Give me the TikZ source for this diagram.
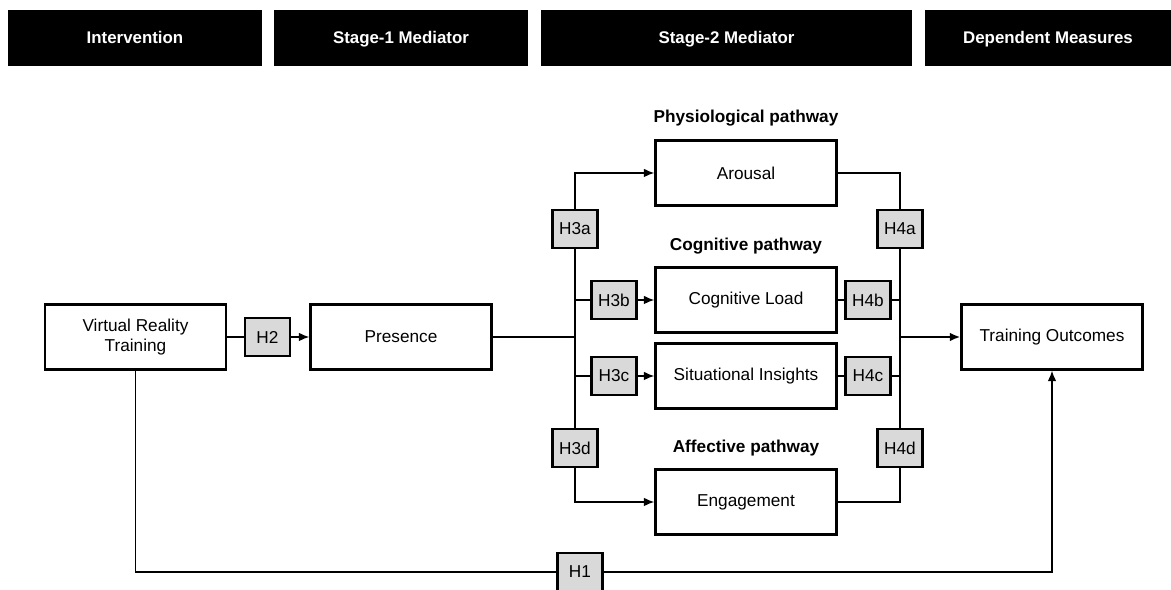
\documentclass[tikz,border=0pt]{standalone}
\usepackage{fontspec}
\setmainfont{Liberation Sans}
\usepackage{tikz}
\usetikzlibrary{arrows.meta}

\definecolor{hypgray}{HTML}{D9D9D9}

\begin{document}
\begin{tikzpicture}[x = 0.02cm, y = -0.02cm,
  font = \fontsize{9.8}{11.5}\selectfont,
  header/.style = {fill = black, text = white, font = \fontsize{9.6}{11}\selectfont\bfseries,
    minimum height = 1.12cm, inner sep = 0pt, text height = 1.6ex, text depth = 0.4ex},
  varbox/.style = {draw, line width = 1.3pt, minimum width = 3.62cm, minimum height = 1.3cm,
    align = center, inner sep = 2pt},
  hyp/.style = {draw, line width = 1.3pt, fill = hypgray, minimum width = 0.9cm,
    minimum height = 0.76cm, inner sep = 1pt},
  pathlabel/.style = {font = \fontsize{9.8}{11.5}\selectfont\bfseries},
  link/.style = {line width = 1pt},
  arr/.style = {line width = 1pt, -{Latex[length = 6pt, width = 5pt]}}]
\useasboundingbox (0,0) rectangle (1171,590);

% column headers
\node[header, minimum width = 5.08cm] (hint) at (135,38) {Intervention};
\node[header, minimum width = 5.08cm] (hmed1) at (401,38) {Stage-1 Mediator};
\node[header, minimum width = 7.42cm] (hmed2) at (726.5,38) {Stage-2 Mediator};
\node[header, minimum width = 4.92cm] (hdep) at (1048,38) {Dependent Measures};

% variables
\node[varbox] (vr) at (135.5,337) {Virtual Reality\\Training};
\node[varbox] (pres) at (401,337) {Presence};
\node[varbox] (arousal) at (746,173) {Arousal};
\node[varbox] (cogload) at (746,300) {Cognitive Load};
\node[varbox] (insight) at (746,376) {Situational Insights};
\node[varbox] (engage) at (746,502) {Engagement};
\node[varbox] (outcome) at (1052,337) {Training Outcomes};

% pathway labels
\node[pathlabel] (lphys) at (746,118) {Physiological pathway};
\node[pathlabel] (lcog) at (746,246) {Cognitive pathway};
\node[pathlabel] (laff) at (746,448) {Affective pathway};

% hypotheses
\node[hyp] (h1) at (580,572) {H1};
\node[hyp] (h2) at (267.5,337) {H2};
\node[hyp] (h3a) at (575,229) {H3a};
\node[hyp] (h3b) at (614,300) {H3b};
\node[hyp] (h3c) at (614,376) {H3c};
\node[hyp] (h3d) at (575,448) {H3d};
\node[hyp] (h4a) at (900,229) {H4a};
\node[hyp] (h4b) at (868,300) {H4b};
\node[hyp] (h4c) at (868,376) {H4c};
\node[hyp] (h4d) at (900,448) {H4d};

\coordinate (jl) at (575,337);
\coordinate (jr) at (900,337);

% intervention -> presence
\draw[link] (vr.east) -- (h2.west);
\draw[arr] (h2.east) -- (pres.west);
\draw[line width = 1.6pt] (pres.east) -- (jl);

% presence -> stage-2 mediators
\draw[link] (jl) -- (h3a.south);
\draw[arr] (h3a.north) |- (arousal.west);
\draw[link] (jl) -- (h3d.north);
\draw[arr] (h3d.south) |- (engage.west);
\draw[link] (jl |- h3b) -- (h3b.west);
\draw[arr] (h3b.east) -- (cogload.west);
\draw[link] (jl |- h3c) -- (h3c.west);
\draw[arr] (h3c.east) -- (insight.west);

% stage-2 mediators -> outcomes
\draw[link] (arousal.east) -| (h4a.north);
\draw[link] (h4a.south) -- (jr);
\draw[link] (engage.east) -| (h4d.south);
\draw[link] (h4d.north) -- (jr);
\draw[link] (cogload.east) -- (h4b.west);
\draw[link] (h4b.east) -- (jr |- h4b);
\draw[link] (insight.east) -- (h4c.west);
\draw[link] (h4c.east) -- (jr |- h4c);
\draw[arr, line width = 1.6pt] (jr) -- (outcome.west);

% direct effect
\draw[link] (vr.south) |- (h1.west);
\draw[arr] (h1.east) -| (outcome.south);
\end{tikzpicture}
\end{document}
